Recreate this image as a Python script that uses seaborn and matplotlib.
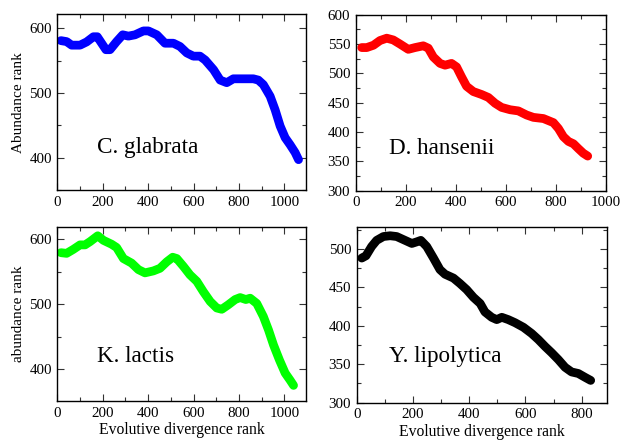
import matplotlib
matplotlib.use("Agg")
import matplotlib.pyplot as plt
import pandas as pd
import seaborn as sns
from matplotlib.ticker import MultipleLocator

# C. glabrata
cg_x = [16, 41, 63, 100, 129, 159, 176, 195, 214, 232, 261, 288, 313, 342, 379, 401,
        438, 474, 511, 540, 570, 599, 628, 651, 688, 717, 746, 775, 805, 863, 885,
        907, 937, 959, 981, 1003, 1025, 1047, 1062]
cg_y = [581, 579.5, 574, 574, 579, 587, 587, 577, 567, 567, 579.5, 590, 588, 590, 596, 596,
        590, 577, 577, 572, 562, 557, 557, 551, 536, 520, 516, 522, 522, 522, 520,
        513, 495, 474, 449, 431, 420, 408, 397]

# D. hansenii
dh_x = [24, 44, 71, 97, 124, 150, 177, 210, 237, 270, 290, 310, 337, 357, 383, 403,
        423, 443, 470, 503, 530, 557, 583, 617, 650, 683, 710, 750, 790, 810, 830,
        850, 870, 889, 909, 927]
dh_y = [544, 544, 548, 556, 560, 557, 550, 541, 544, 547, 543, 528, 517, 514, 517, 511,
        494, 478, 469, 464, 459, 449, 442, 438, 436, 429, 425, 423, 416, 406, 392,
        384, 380, 372, 364, 359]

# K. lactis
kl_x = [16, 41, 70, 100, 122, 144, 178, 203, 239, 261, 291, 327, 357, 386, 423, 452,
        482, 508, 526, 555, 584, 614, 643, 673, 702, 724, 753, 783, 805, 830, 849,
        878, 907, 930, 952, 978, 1003, 1025, 1040]
kl_y = [579, 578, 584, 591, 591, 596, 605, 598, 592, 587, 570, 563, 553, 548, 551, 555,
        565, 572, 570, 558, 545, 535, 519, 504, 494, 492, 499, 507, 510, 507, 509,
        501, 481, 460, 437, 414, 394, 383, 375]

# Y. lipolytica
yl_x = [18, 33, 53, 71, 95, 119, 142, 166, 196, 213, 228, 249, 273, 296, 314, 344,
        367, 391, 415, 439, 456, 480, 498, 516, 539, 563, 593, 622, 646, 670, 693,
        717, 741, 764, 788, 812, 832]
yl_y = [488, 491, 503, 511, 516, 517, 516, 512, 507, 509, 511, 503, 488, 473, 467, 462,
        455, 447, 437, 429, 418, 411, 408, 411, 408, 404, 398, 390, 382, 373, 365,
        356, 346, 340, 338, 333, 329]

sns.set_style("ticks")
plt.rcParams["font.family"] = ["Liberation Serif", "DejaVu Serif"]
plt.rcParams["text.color"] = "black"
plt.rcParams["axes.labelcolor"] = "black"
plt.rcParams["xtick.labelcolor"] = "black"
plt.rcParams["ytick.labelcolor"] = "black"

fig = plt.figure(figsize=(6.21, 4.41), dpi=100)

panels = [
    # name, x, y, color, rect, xlim, ylim, xmaj, ymaj, ymin, text pos
    ("C. glabrata", cg_x, cg_y, "#0000ff", [0.0923, 0.569, 0.4005, 0.399],
     (0, 1095), (350, 622), 200, 100, 50, (0.16, 0.24)),
    ("D. hansenii", dh_x, dh_y, "#ff0000", [0.5728, 0.5676, 0.403, 0.399],
     (0, 1000), (300, 600), 200, 50, 25, (0.133, 0.237)),
    ("K. lactis", kl_x, kl_y, "#00ff00", [0.0923, 0.0907, 0.4005, 0.3953],
     (0, 1095), (351, 619), 200, 100, 50, (0.16, 0.254)),
    ("Y. lipolytica", yl_x, yl_y, "#000000", [0.5744, 0.0868, 0.4026, 0.3978],
     (0, 889), (300, 528), 200, 50, 25, (0.129, 0.262)),
]

axes = []
for name, xs, ys, col, rect, xl, yl, xmaj, ymaj, ymin, tpos in panels:
    ax = fig.add_axes(rect)
    df = pd.DataFrame({"x": xs, "y": ys})
    sns.lineplot(data=df, x="x", y="y", ax=ax, color=col, linewidth=6.3,
                 solid_capstyle="round", solid_joinstyle="round")
    ax.set_xlim(*xl)
    ax.set_ylim(*yl)
    ax.xaxis.set_major_locator(MultipleLocator(xmaj))
    ax.xaxis.set_minor_locator(MultipleLocator(xmaj / 2))
    ax.yaxis.set_major_locator(MultipleLocator(ymaj))
    ax.yaxis.set_minor_locator(MultipleLocator(ymin))
    ax.tick_params(which="both", direction="in", top=True, right=True,
                   labelsize=10.8, color="#333333", width=0.8, pad=4)
    ax.tick_params(which="major", length=5)
    ax.tick_params(which="minor", length=3)
    for s in ax.spines.values():
        s.set_linewidth(1.0)
        s.set_color("black")
    ax.set_xlabel("")
    ax.set_ylabel("")
    ax.text(tpos[0], tpos[1], name, transform=ax.transAxes, fontsize=16.7,
            va="center", ha="left", color="black")
    axes.append(ax)

axes[0].set_ylabel("Abundance rank", fontsize=11, labelpad=3)
axes[2].set_ylabel("abundance rank", fontsize=11, labelpad=3)
axes[2].set_xlabel("Evolutive divergence rank", fontsize=11.3, labelpad=2)
axes[3].set_xlabel("Evolutive divergence rank", fontsize=11.3, labelpad=2)

fig.savefig("out.png", dpi=100)
